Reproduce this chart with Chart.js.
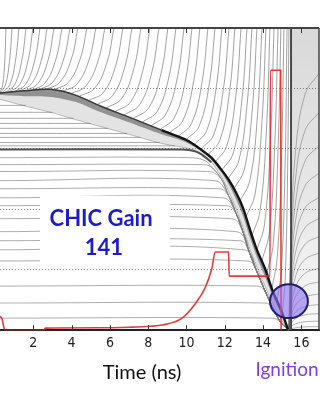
<!DOCTYPE html>
<html>
<head>
<meta charset="utf-8">
<script src="https://cdn.jsdelivr.net/npm/chart.js@4.4.0/dist/chart.umd.min.js"></script>
<style>
  html, body { margin: 0; padding: 0; background: #fff; }
  #wrap { width: 324px; height: 400px; }
</style>
</head>
<body>
<div id="wrap"><canvas id="rtChart" width="324" height="400"></canvas></div>
<script>
// ── r-t 다이어그램 데이터 (시간 ns, 반경 µm) ──
var tMin = 0.26, tMax = 16.92;
var xTicks = [2, 4, 6, 8, 10, 12, 14, 16];
var rGrid = [200, 400, 600, 800];
var ignitionT = 15.46;

// shell (outer edge / mid / inner edge)
var shellT      = [0.26, 1.5, 2.9, 4.2, 5.5, 7.0, 8.7, 9.9, 10.4, 10.8, 11.3, 11.8, 12.2, 12.6, 12.95, 13.3, 13.7, 14.1, 14.5, 14.9, 15.3];
var shellOuterR = [785, 792, 797, 778, 742, 705, 662, 632, 614, 596, 571, 533, 498, 454, 405, 336, 262, 204, 130, 73, 3];
var shellMidR   = [778, 774, 772, 756, 722, 688, 648, 624, 608, 591, 565, 524, 483, 432, 378, 308, 238, 178, 113, 58, 3];
var shellInnerR = [764, 743, 721, 697, 674, 648, 618, 604, 596, 583, 556, 510, 460, 400, 340, 270, 205, 145, 90, 40, 3];

// ice/gas boundary
var iceT = [0.26, 9.8, 10.4, 10.8, 11.3];
var iceR = [598, 598, 593, 581, 556];

// lines swept into the shell on the left
var wedgeR    = [744, 721, 701, 684, 668, 651, 638, 621, 610];
var wedgeEndT = [1.6, 3.0, 4.1, 5.0, 5.9, 6.9, 7.6, 8.6, 9.4];

// fuel lines
var fuelR     = [571, 548, 525, 495, 468, 438, 412, 369, 326, 296, 266, 229, 146, 90, 40];
var fuelBendT = [10.2, 10.75, 11.1, 11.45, 11.7, 11.9, 12.1, 12.35, 12.6, 12.8, 13.0, 13.2, 13.7, 14.1, 14.45];
var convergeT = [10.6, 11.0, 11.3, 11.8, 12.2, 12.6, 12.95, 13.3, 13.7, 14.1, 14.5, 14.9, 15.33];
var convergeR = [575, 560, 540, 502, 445, 385, 325, 255, 190, 130, 75, 28, 0];

// ablated zones [t, r]
var ablatorLines = [
  [[0.26,785],[0.40,811],[0.51,893],[0.57,1000]],
  [[0.26,785],[0.54,811],[0.76,893],[0.89,1000]],
  [[0.37,786],[0.77,812],[1.07,893],[1.25,1000]],
  [[0.52,786],[1.02,812],[1.40,893],[1.62,1000]],
  [[0.73,788],[1.29,813],[1.73,894],[1.98,1000]],
  [[0.99,789],[1.60,814],[2.08,895],[2.35,1000]],
  [[1.25,791],[1.91,816],[2.43,896],[2.72,1000]],
  [[1.57,792],[2.25,817],[2.78,896],[3.08,1000]],
  [[1.88,793],[2.61,818],[3.18,897],[3.50,1000]],
  [[2.25,795],[3.00,820],[3.59,898],[3.92,1000]],
  [[2.61,796],[3.38,820],[3.99,898],[4.33,1000]],
  [[3.03,795],[3.83,820],[4.45,898],[4.80,1000]],
  [[3.45,789],[4.27,814],[4.91,895],[5.27,1000]],
  [[3.92,782],[4.74,808],[5.38,891],[5.74,1000]],
  [[4.39,774],[5.21,801],[5.85,887],[6.21,1000]],
  [[4.86,759],[5.68,788],[6.32,880],[6.68,1000]],
  [[5.33,747],[6.15,777],[6.79,874],[7.15,1000]],
  [[5.80,735],[6.62,767],[7.26,868],[7.62,1000]],
  [[6.27,723],[7.09,756],[7.73,862],[8.09,1000]],
  [[6.74,712],[7.56,747],[8.20,856],[8.56,1000]],
  [[7.21,700],[8.03,736],[8.67,850],[9.03,1000]],
  [[7.68,688],[8.48,725],[9.10,844],[9.45,1000]],
  [[8.15,676],[8.92,715],[9.53,838],[9.87,1000]],
  [[8.62,664],[9.37,704],[9.96,832],[10.29,1000]],
  [[9.09,652],[9.81,694],[10.38,826],[10.70,1000]],
  [[9.56,641],[10.26,684],[10.81,820],[11.12,1000]],
  [[9.97,630],[10.65,674],[11.19,815],[11.49,1000]],
  [[10.39,614],[11.05,660],[11.56,807],[11.85,1000]],
  [[10.76,599],[11.42,647],[11.93,800],[12.22,1000]],
  [[11.12,580],[11.75,630],[12.25,790],[12.53,1000]],
  [[11.49,556],[12.10,609],[12.58,778],[12.85,1000]],
  [[11.85,530],[12.44,586],[12.90,765],[13.16,1000]],
  [[12.17,501],[12.73,561],[13.17,751],[13.42,1000]],
  [[12.48,468],[13.02,532],[13.44,734],[13.68,1000]],
  [[12.79,427],[13.31,496],[13.71,714],[13.94,1000]],
  [[13.11,375],[13.58,450],[13.94,688],[14.15,1000]],
  [[13.42,313],[13.84,395],[14.17,657],[14.36,1000]],
  [[13.68,265],[14.08,353],[14.39,633],[14.57,1000]],
  [[13.94,230],[14.32,322],[14.61,615],[14.78,1000]],
  [[14.20,189],[14.53,286],[14.78,595],[14.93,1000]],
  [[14.46,138],[14.74,241],[14.96,569],[15.09,1000]],
  [[14.73,96],[14.96,204],[15.15,548],[15.25,1000]],
  [[14.99,50],[15.15,164],[15.28,525],[15.35,1000]]
];

// rebound after stagnation
var reboundT = [15.35, 15.45, 15.7, 16.2, 16.92];
var reboundR = [
  [0, 4, 8, 11, 12],
  [0, 11, 21, 28, 30],
  [0, 19, 39, 51, 55],
  [0, 30, 60, 78, 85],
  [0, 42, 84, 110, 120],
  [0, 56, 112, 147, 160],
  [0, 72, 144, 189, 205],
  [0, 89, 179, 235, 255],
  [0, 109, 217, 285, 310],
  [0, 130, 259, 340, 370],
  [0, 154, 308, 405, 440],
  [0, 182, 364, 478, 520],
  [0, 214, 427, 561, 610],
  [0, 252, 504, 662, 720],
  [0, 298, 595, 782, 850]
];

// laser pulse (arb. units on the same axis)
var laserT = [0.26, 0.37, 0.47, 0.55, 2.55, 2.62, 5.5, 7.05, 8.1, 8.72, 9.77, 10.44, 10.97, 11.33, 11.5, 12.2, 12.23, 14.36, 14.38, 14.92, 14.94];
var laserP = [46, 37, 7, 0, 0, 7, 8, 10, 13, 17, 40, 86, 140, 206, 259, 259, 179, 179, 860, 860, 0];

// ignition marker ellipse
var spotT = 15.35, spotR = 96, spotHalfT = 0.99, spotHalfR = 56;

document.addEventListener('DOMContentLoaded', function() {

    function pts(ts, rs) {
        return ts.map(function(t, i) { return { x: t, y: rs[i] }; });
    }
    function grayLine(data, color, width) {
        return { data: data, borderColor: color, borderWidth: width, tension: 0.4, pointRadius: 0, fill: false, order: 6 };
    }

    var datasets = [];

    // ── laser ──
    datasets.push({ data: pts(laserT, laserP), borderColor: 'rgba(226,40,40,0.9)', borderWidth: 1.6, cubicInterpolationMode: 'monotone', pointRadius: 0, fill: false, order: 0 });

    // ── shell: thin on the left, heavy once it implodes ──
    datasets.push({
        data: pts(shellT, shellOuterR), borderColor: '#161616', borderWidth: 2.4, tension: 0.3, pointRadius: 0, fill: false, order: 1,
        segment: {
            borderColor: function(c) { return c.p0.parsed.x < 8 ? '#3a3a3a' : '#141414'; },
            borderWidth: function(c) { return c.p0.parsed.x < 8 ? 1.5 : 2.4; }
        }
    });
    datasets.push({ data: pts(iceT, iceR), borderColor: '#505050', borderWidth: 2, tension: 0.3, pointRadius: 0, fill: false, order: 2 });
    datasets.push({ data: pts(shellT, shellOuterR).concat(pts(shellT, shellMidR).reverse()), fill: 'shape', backgroundColor: 'rgba(30,30,30,0.42)', borderWidth: 0, tension: 0.25, pointRadius: 0, order: 3 });
    datasets.push({ data: pts(shellT, shellOuterR).concat(pts(shellT, shellInnerR).reverse()), fill: 'shape', backgroundColor: 'rgba(80,80,80,0.16)', borderColor: 'rgba(100,100,100,0.5)', borderWidth: 0.8, tension: 0.25, pointRadius: 0, order: 4 });

    // ── ignition time ──
    datasets.push({ data: [{ x: ignitionT, y: 0 }, { x: ignitionT, y: 1000 }], borderColor: '#4a4a4a', borderWidth: 2, pointRadius: 0, fill: false, order: 5 });

    // ── gray trajectories ──
    wedgeR.forEach(function(r, i) {
        datasets.push(grayLine([{ x: tMin, y: r }, { x: wedgeEndT[i], y: r }], 'rgba(120,120,120,0.7)', 0.9));
    });
    fuelR.forEach(function(r, i) {
        var d = [{ x: tMin, y: r }, { x: fuelBendT[i], y: r }];
        convergeT.forEach(function(t, k) {
            if (t > fuelBendT[i] + 0.3 && convergeR[k] < r - 5) d.push({ x: t, y: convergeR[k] });
        });
        datasets.push(grayLine(d, 'rgba(125,125,125,0.7)', 0.9));
    });
    ablatorLines.forEach(function(line) {
        datasets.push(grayLine(line.map(function(p) { return { x: p[0], y: p[1] }; }), 'rgba(95,95,95,0.65)', 0.9));
    });
    reboundR.forEach(function(rs) {
        datasets.push(grayLine(pts(reboundT, rs), 'rgba(100,100,100,0.6)', 0.8));
    });

    // ── overlay: shading, frame, labels, ellipse ──
    var overlay = {
        id: 'overlay',
        beforeDatasetsDraw: function(chart) {
            var ctx = chart.ctx, a = chart.chartArea, xs = chart.scales.x;
            var x0 = xs.getPixelForValue(ignitionT);
            var g = ctx.createLinearGradient(0, a.top, 0, a.bottom);
            g.addColorStop(0, 'rgba(0,0,0,0.15)');
            g.addColorStop(0.6, 'rgba(0,0,0,0.09)');
            g.addColorStop(1, 'rgba(0,0,0,0.02)');
            ctx.save();
            ctx.fillStyle = g;
            ctx.fillRect(x0, a.top, a.right - x0, a.bottom - a.top);
            ctx.restore();
        },
        afterDatasetsDraw: function(chart) {
            var ctx = chart.ctx, a = chart.chartArea, xs = chart.scales.x, ys = chart.scales.y;
            ctx.save();

            // white box behind the gain label
            var bx0 = xs.getPixelForValue(2.35), bx1 = xs.getPixelForValue(9.14);
            var by0 = ys.getPixelForValue(445), by1 = ys.getPixelForValue(223);
            ctx.fillStyle = '#fff';
            ctx.fillRect(bx0, by0, bx1 - bx0, by1 - by0);

            ctx.fillStyle = '#1c1cc8';
            ctx.font = 'bold 22px Lato, "Open Sans", sans-serif';
            ctx.textAlign = 'center';
            ctx.textBaseline = 'middle';
            ctx.fillText('CHIC Gain', xs.getPixelForValue(5.54), ys.getPixelForValue(369));
            ctx.fillText('141', xs.getPixelForValue(5.69), ys.getPixelForValue(272));

            // frame
            ctx.strokeStyle = '#444';
            ctx.lineWidth = 2;
            ctx.beginPath();
            ctx.moveTo(a.left, a.top); ctx.lineTo(a.right, a.top);
            ctx.stroke();
            ctx.lineWidth = 1.5;
            ctx.beginPath();
            ctx.moveTo(a.right, a.top); ctx.lineTo(a.right, a.bottom);
            ctx.stroke();
            ctx.lineWidth = 1;
            ctx.strokeStyle = '#333';
            xTicks.forEach(function(v) {
                var px = Math.round(xs.getPixelForValue(v)) + 0.5;
                ctx.beginPath();
                ctx.moveTo(px, a.top); ctx.lineTo(px, a.top + 5);
                ctx.moveTo(px, a.bottom); ctx.lineTo(px, a.bottom - 5);
                ctx.stroke();
            });

            // ignition spot
            var cx = xs.getPixelForValue(spotT), cy = ys.getPixelForValue(spotR);
            var rx = xs.getPixelForValue(spotT + spotHalfT) - cx;
            var ry = cy - ys.getPixelForValue(spotR + spotHalfR);
            ctx.beginPath();
            ctx.ellipse(cx, cy, rx, ry, 0, 0, Math.PI * 2);
            ctx.fillStyle = 'rgba(140,112,238,0.62)';
            ctx.fill();
            ctx.strokeStyle = '#1e1e6e';
            ctx.lineWidth = 2;
            ctx.stroke();
            ctx.restore();
        },
        afterDraw: function(chart) {
            var ctx = chart.ctx, a = chart.chartArea, xs = chart.scales.x;
            ctx.save();
            ctx.textAlign = 'center';
            ctx.textBaseline = 'middle';
            ctx.fillStyle = '#111';
            ctx.font = '20px Lato, "Open Sans", sans-serif';
            ctx.fillText('Time (ns)', xs.getPixelForValue(7.68), a.bottom + 42);
            ctx.fillStyle = '#7b3fe6';
            ctx.font = '19px Lato, "Open Sans", sans-serif';
            ctx.fillText('Ignition', xs.getPixelForValue(15.25), a.bottom + 40);
            ctx.restore();
        }
    };

    new Chart(document.getElementById('rtChart').getContext('2d'), {
        type: 'line',
        data: { datasets: datasets },
        options: {
            responsive: false, animation: false, events: [],
            layout: { padding: { top: 28, right: 5, bottom: 43, left: 0 } },
            plugins: { legend: { display: false }, tooltip: { enabled: false } },
            scales: {
                x: {
                    type: 'linear', min: tMin, max: tMax,
                    afterBuildTicks: function(axis) { axis.ticks = xTicks.map(function(v) { return { value: v }; }); },
                    grid: { display: false, drawTicks: false },
                    border: { display: true, color: '#222', width: 2 },
                    ticks: { padding: 5, color: '#222', font: { family: '"Liberation Sans Narrow", "DejaVu Sans Condensed", sans-serif', size: 14 } }
                },
                y: {
                    type: 'linear', min: 0, max: 1000,
                    afterBuildTicks: function(axis) { axis.ticks = rGrid.map(function(v) { return { value: v }; }); },
                    ticks: { display: false },
                    grid: { color: '#8a8a8a', lineWidth: 1, drawTicks: false },
                    border: { display: false, dash: [1, 2] }
                }
            }
        },
        plugins: [overlay]
    });
});
</script>
</body>
</html>
